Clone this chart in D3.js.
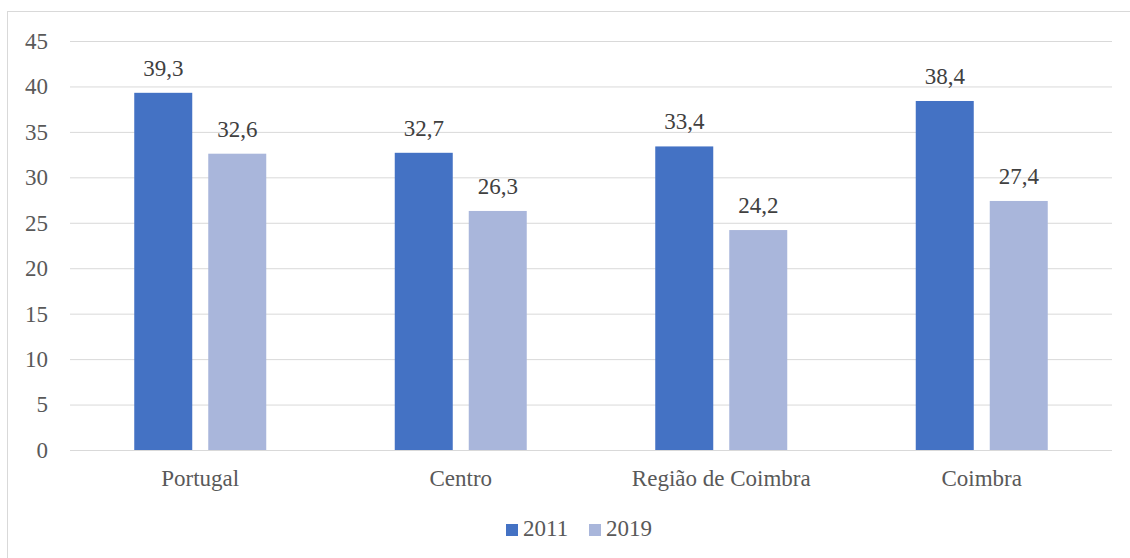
<!DOCTYPE html>
<html>
<head>
<meta charset="utf-8">
<script src="https://cdn.jsdelivr.net/npm/d3@7"></script>
<style>
  body { margin: 0; background: #fff; }
  svg text { font-family: "Liberation Serif", "Times New Roman", serif; }
</style>
</head>
<body>
<svg id="chart" width="1130" height="558"></svg>
<script>
const categories = ["Portugal", "Centro", "Região de Coimbra", "Coimbra"];
const series = ["2011", "2019"];
const values2011 = [39.3, 32.7, 33.4, 38.4];
const values2019 = [32.6, 26.3, 24.2, 27.4];
const yTicks = [0, 5, 10, 15, 20, 25, 30, 35, 40, 45];
const colors = ["#4472C4", "#A9B6DB"];

const FONT = '"Liberation Serif", "Times New Roman", serif';
const FS = "23px";

const svg = d3.select("svg#chart");
const width = +svg.attr("width");
const height = +svg.attr("height");

// outer frame
svg.append("rect")
    .attr("x", 7.5).attr("y", 11.5)
    .attr("width", width - 7).attr("height", height - 11)
    .attr("fill", "#fff")
    .attr("stroke", "#D9D9D9");

const plot = { left: 70, right: 1112, top: 41, bottom: 450 };

const y = d3.scaleLinear().domain([0, 45]).range([plot.bottom, plot.top]);
const x0 = d3.scaleBand().domain(categories).range([plot.left, plot.right]);
const groupW = 132;
const x1 = d3.scaleBand().domain(series).range([0, groupW]).paddingInner(2 - groupW / 74);

// gridlines
const grid = d3.axisLeft(y).tickValues(yTicks).tickSize(-(plot.right - plot.left)).tickFormat("");
svg.append("g")
    .attr("class", "grid")
    .attr("transform", `translate(${plot.left},0)`)
    .call(grid)
    .call(g => g.select(".domain").remove())
    .call(g => g.selectAll("line").attr("stroke", "#D9D9D9").attr("stroke-width", 1));

// y axis labels
const leftAxis = d3.axisLeft(y).tickValues(yTicks).tickSize(0).tickPadding(22);
svg.append("g")
    .attr("transform", `translate(${plot.left},0)`)
    .attr("font-family", FONT)
    .call(leftAxis)
    .call(g => g.select(".domain").remove())
    .call(g => g.selectAll("text")
        .attr("fill", "#595959")
        .style("font-family", FONT)
        .style("font-size", FS));

// x axis labels
const bottomAxis = d3.axisBottom(x0).tickSize(0);
svg.append("g")
    .attr("transform", `translate(0,${plot.bottom})`)
    .attr("font-family", FONT)
    .call(bottomAxis)
    .call(g => g.select(".domain").remove())
    .call(g => g.selectAll("text")
        .attr("y", 36)
        .attr("dy", 0)
        .attr("fill", "#595959")
        .style("font-family", FONT)
        .style("font-size", FS));

const rows = categories.map((c, i) => ({
    cat: c,
    vals: [{ s: "2011", v: values2011[i] }, { s: "2019", v: values2019[i] }]
}));

const groups = svg.append("g").attr("id", "bars")
    .selectAll("g")
    .data(rows)
    .join("g")
    .attr("transform", d => `translate(${x0(d.cat) + x0.bandwidth() / 2 - groupW / 2},0)`);

groups.selectAll("rect")
    .data(d => d.vals)
    .join("rect")
    .attr("x", d => x1(d.s))
    .attr("y", d => y(d.v))
    .attr("width", x1.bandwidth())
    .attr("height", d => y(0) - y(d.v))
    .attr("fill", (d, i) => colors[i]);

groups.selectAll("text")
    .data(d => d.vals)
    .join("text")
    .attr("x", d => x1(d.s) + x1.bandwidth() / 2)
    .attr("y", d => y(d.v) - 17)
    .attr("text-anchor", "middle")
    .attr("fill", "#404040")
    .style("font-family", FONT)
    .style("font-size", FS)
    .text(d => d3.format(".1f")(d.v).replace(".", ","));

// legend
const legend = svg.append("g").attr("id", "legend");
const legendX = [506, 589];
series.forEach((s, i) => {
    legend.append("rect")
        .attr("x", legendX[i]).attr("y", 524)
        .attr("width", 12).attr("height", 12)
        .attr("fill", colors[i]);
    legend.append("text")
        .attr("x", legendX[i] + 17).attr("y", 536)
        .attr("fill", "#595959")
        .style("font-family", FONT)
        .style("font-size", FS)
        .text(s);
});
</script>
</body>
</html>
